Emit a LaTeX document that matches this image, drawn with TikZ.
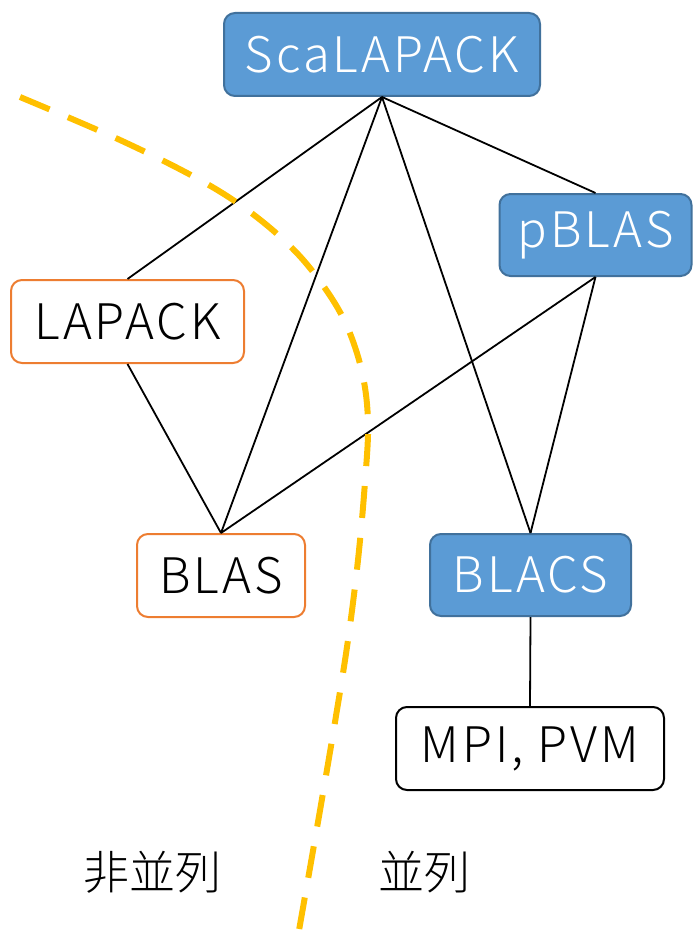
\documentclass[tikz,border=0pt]{standalone}
\usepackage{fontspec}
\setmainfont{Noto Sans CJK JP Light}
\definecolor{bluefill}{HTML}{5B9BD5}
\definecolor{blueedge}{HTML}{41719C}
\definecolor{orangeedge}{HTML}{ED7D31}
\definecolor{dashyellow}{HTML}{FFC000}
\tikzset{
  box/.style={rounded corners=11pt, line width=2pt, inner sep=0pt, font=\fontsize{49}{55}\selectfont\addfontfeatures{LetterSpace=6}},
  bluebox/.style={box, draw=blueedge, fill=bluefill, text=white},
  orangebox/.style={box, draw=orangeedge, fill=white, text=black},
  blackbox/.style={box, draw=black, fill=white, text=black},
  link/.style={line width=1.8pt, black},
  divider/.style={line width=6pt, dashyellow, dash pattern=on 32pt off 20pt},
  zonelabel/.style={font=\fontsize{46}{52}\selectfont, text=black}
}
\begin{document}
\begin{tikzpicture}[x=1pt,y=-1pt]
\useasboundingbox (0,0) rectangle (693,936);
\node[bluebox, minimum width=316pt, minimum height=83pt] (sca) at (382,54.5) {ScaLAPACK};
\node[bluebox, minimum width=192pt, minimum height=82pt] (pblas) at (595.5,235) {pBLAS};
\node[orangebox, minimum width=233pt, minimum height=83pt] (lapack) at (127.5,321.5) {LAPACK};
\node[orangebox, minimum width=168pt, minimum height=83pt] (blas) at (221,575.5) {BLAS};
\node[bluebox, minimum width=201pt, minimum height=82pt] (blacs) at (530.5,575) {BLACS};
\node[blackbox, minimum width=268pt, minimum height=83pt] (mpi) at (530,748.5) {MPI, PVM};

\draw[link] (sca.south) -- (lapack.north);
\draw[link] (sca.south) -- (blas.north);
\draw[link] (sca.south) -- (blacs.north);
\draw[link] (sca.south) -- (pblas.north);
\draw[link] (pblas.south) -- (blas.north);
\draw[link] (pblas.south) -- (blacs.north);
\draw[link] (lapack.south) -- (blas.north);
\draw[link] (blacs.south) -- (mpi.north);

\draw[divider] plot[smooth, tension=0.6] coordinates {(20,97) (120,140) (200,180) (250,212) (292,248) (322,284) (346,324) (362,372) (368,422) (365,482) (358,560) (348,640) (335,722) (318,822) (298,936)};

\node[zonelabel] (nonpar) at (152,872) {非並列};
\node[zonelabel] (par) at (424,872) {並列};
\end{tikzpicture}
\end{document}
